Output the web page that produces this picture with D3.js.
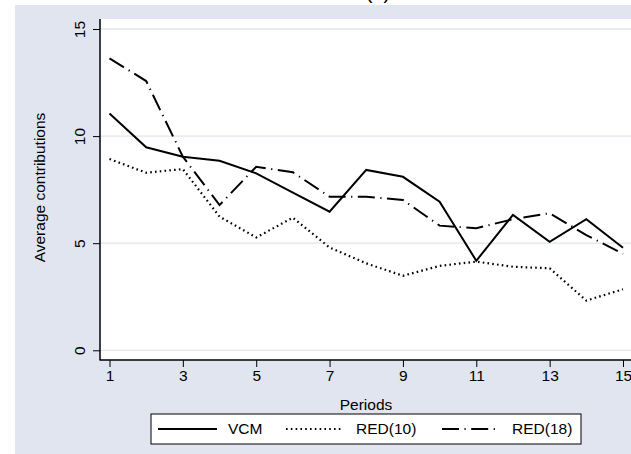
<!DOCTYPE html>
<html>
<head>
<meta charset="utf-8">
<script src="https://cdn.jsdelivr.net/npm/d3@7"></script>
<style>
  html, body { margin: 0; padding: 0; background: #ffffff; }
  svg { display: block; }
  text { font-family: "Liberation Sans", Arial, Helvetica, sans-serif; fill: #000; }
</style>
</head>
<body>
<svg id="chart" width="631" height="454"></svg>
<script>
// Average contributions per period, by treatment
const periods = [1, 2, 3, 4, 5, 6, 7, 8, 9, 10, 11, 12, 13, 14, 15];
const vcm   = [11.06, 9.48, 9.04, 8.85, 8.26, 7.36, 6.47, 8.42, 8.10, 6.94, 4.18, 6.32, 5.06, 6.12, 4.79];
const red10 = [8.93, 8.29, 8.46, 6.24, 5.27, 6.19, 4.80, 4.06, 3.48, 3.94, 4.14, 3.90, 3.83, 2.32, 2.85];
const red18 = [13.63, 12.57, 9.04, 6.78, 8.57, 8.31, 7.17, 7.17, 7.02, 5.82, 5.70, 6.12, 6.40, 5.38, 4.50];
const seriesNames = ["VCM", "RED(10)", "RED(18)"];
const xTicks = [1, 3, 5, 7, 9, 11, 13, 15];
const yTicks = [0, 5, 10, 15];
const titleText = "(a)";
const xTitle = "Periods";
const yTitle = "Average contributions";

const svg = d3.select("#chart");
const bg = "#e0e5ef";
const grid = "#dfe4ee";
const fs = 15.5;

// graph region and plot region
const plot = { left: 100, right: 632, top: 19, bottom: 360 };
svg.append("rect").attr("x", 15).attr("y", 5).attr("width", 700).attr("height", 460).attr("fill", bg);
svg.append("rect").attr("x", plot.left).attr("y", plot.top)
  .attr("width", plot.right - plot.left).attr("height", plot.bottom - plot.top).attr("fill", "#fff");

const x = d3.scaleLinear().domain([1, 15]).range([109.5, 623]);
const y = d3.scaleLinear().domain([0, 15]).range([350.3, 29]);

// title (mostly above the visible area)
svg.append("text").attr("x", 378).attr("y", -1).attr("text-anchor", "middle")
  .attr("font-size", 20).text(titleText);

// horizontal gridlines
svg.append("g").selectAll("line").data(yTicks).join("line")
  .attr("x1", plot.left).attr("x2", plot.right)
  .attr("y1", d => y(d)).attr("y2", d => y(d))
  .attr("stroke", grid).attr("stroke-width", 1.3);

// y axis
const yAxis = svg.append("g").attr("transform", `translate(${plot.left},0)`)
  .call(d3.axisLeft(y).tickValues(yTicks).tickSize(7).tickFormat(d3.format("d")));
yAxis.select(".domain").remove();
yAxis.selectAll(".tick line").attr("stroke", "#000").attr("stroke-width", 1);
yAxis.selectAll(".tick text")
  .attr("font-size", fs).attr("font-family", "Liberation Sans, Arial, sans-serif")
  .attr("x", null).attr("dy", null)
  .attr("text-anchor", "middle")
  .attr("transform", "translate(-15,0) rotate(-90)");

// x axis
const xAxis = svg.append("g").attr("transform", `translate(0,${plot.bottom})`)
  .call(d3.axisBottom(x).tickValues(xTicks).tickSize(7).tickFormat(d3.format("d")));
xAxis.select(".domain").remove();
xAxis.selectAll(".tick line").attr("stroke", "#000").attr("stroke-width", 1);
xAxis.selectAll(".tick text")
  .attr("font-size", fs).attr("font-family", "Liberation Sans, Arial, sans-serif")
  .attr("y", 21).attr("dy", null);

// axis lines
svg.append("line").attr("x1", plot.left).attr("x2", plot.left)
  .attr("y1", plot.top).attr("y2", plot.bottom + 0.5).attr("stroke", "#000").attr("stroke-width", 1.5);
svg.append("line").attr("x1", plot.left).attr("x2", plot.right)
  .attr("y1", plot.bottom).attr("y2", plot.bottom).attr("stroke", "#000").attr("stroke-width", 1.5);

// axis titles
svg.append("text").attr("x", 366).attr("y", 409.5).attr("text-anchor", "middle")
  .attr("font-size", fs).text(xTitle);
svg.append("text").attr("transform", "translate(44.5,187.5) rotate(-90)")
  .attr("text-anchor", "middle").attr("font-size", fs).text(yTitle);

// series
const styles = [
  { dash: null, width: 2 },
  { dash: "1.6,3.2", width: 2.2 },
  { dash: "17,5.5,1.2,5.5", width: 2 }
];
const seriesData = [vcm, red10, red18];
const line = d3.line().x((d, i) => x(periods[i])).y(d => y(d));
svg.append("g").selectAll("path").data(seriesData).join("path")
  .attr("d", d => line(d))
  .attr("fill", "none").attr("stroke", "#000")
  .attr("stroke-width", (d, i) => styles[i].width)
  .attr("stroke-dasharray", (d, i) => styles[i].dash)
  .attr("stroke-linejoin", "miter");

// legend
const lg = svg.append("g");
lg.append("rect").attr("x", 151).attr("y", 414).attr("width", 430).attr("height", 30)
  .attr("fill", "#fff").attr("stroke", "#000").attr("stroke-width", 1);
const legendItems = [
  { x0: 158, x1: 217, tx: 228 },
  { x0: 286, x1: 342, tx: 356 },
  { x0: 442, x1: 500, tx: 512 }
];
legendItems.forEach((it, i) => {
  lg.append("line").attr("x1", it.x0).attr("x2", it.x1).attr("y1", 429).attr("y2", 429)
    .attr("stroke", "#000").attr("stroke-width", styles[i].width)
    .attr("stroke-dasharray", styles[i].dash);
  lg.append("text").attr("x", it.tx).attr("y", 433.5).attr("font-size", fs).text(seriesNames[i]);
});
</script>
</body>
</html>
